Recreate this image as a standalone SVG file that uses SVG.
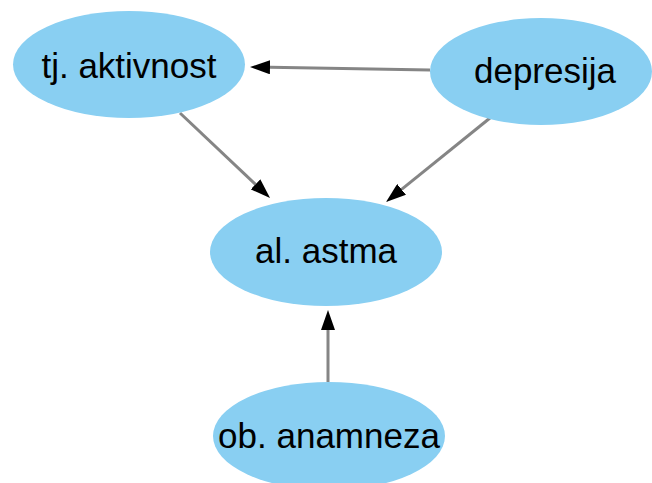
<svg xmlns="http://www.w3.org/2000/svg" width="652" height="483" viewBox="0 0 652 483">
<style>
.node ellipse{fill:#89cff2;stroke:none}
.node text{font-family:"Liberation Sans",Arial,sans-serif;font-size:35px;fill:#000;text-anchor:middle}
.edge{stroke:#858585;stroke-width:3;fill:none}
</style>
<defs>
<marker id="arr" markerUnits="userSpaceOnUse" markerWidth="20" markerHeight="14" refX="0" refY="7" orient="auto">
<path d="M0,0 L20,7 L0,14 z" fill="#000"/>
</marker>
</defs>
<rect width="652" height="483" fill="#fff"/>
<g id="connectors">
<line class="edge" x1="430" y1="70" x2="270" y2="67.3" marker-end="url(#arr)"/>
<line class="edge" x1="180" y1="113" x2="255.5" y2="184.3" marker-end="url(#arr)"/>
<line class="edge" x1="490" y1="118" x2="401.6" y2="189.4" marker-end="url(#arr)"/>
<line class="edge" x1="328" y1="382" x2="328" y2="330" marker-end="url(#arr)"/>
</g>
<g id="tj-aktivnost" class="node">
<ellipse cx="129" cy="64.5" rx="116" ry="53.5"/>
<text x="129" y="78">tj. aktivnost</text>
</g>
<g id="depresija" class="node">
<ellipse cx="541" cy="71.5" rx="111" ry="53.5"/>
<text x="545" y="83">depresija</text>
</g>
<g id="al-astma" class="node">
<ellipse cx="326" cy="252" rx="116" ry="54"/>
<text x="326" y="263">al. astma</text>
</g>
<g id="ob-anamneza" class="node">
<ellipse cx="329" cy="436" rx="116" ry="54"/>
<text x="329" y="448">ob. anamneza</text>
</g>
</svg>
